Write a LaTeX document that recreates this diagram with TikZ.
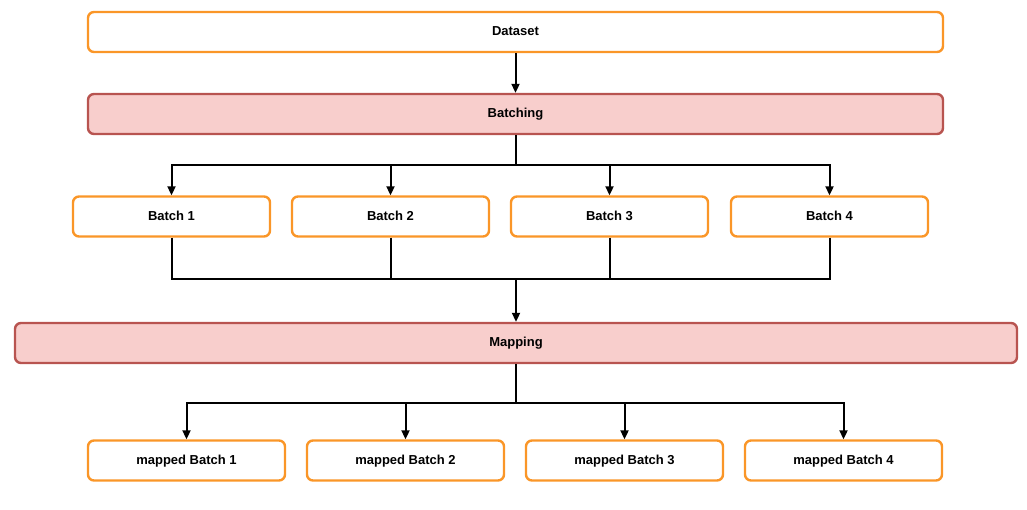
\documentclass[tikz,border=0pt]{standalone}
\usepackage{fontspec}
\setmainfont{Liberation Sans}
\usetikzlibrary{arrows.meta,positioning}

\definecolor{boxorange}{RGB}{250,150,40}
\definecolor{stagefill}{HTML}{F8CECC}
\definecolor{stagedraw}{HTML}{B85450}

\begin{document}
\begin{tikzpicture}
			[x=1pt,y=-1pt,on grid,>={Triangle[length=9pt,width=8pt]},
			item/.style={rectangle,rounded corners=6pt,draw=boxorange,fill=white,line width=2.4pt,
				minimum width=197pt,minimum height=40pt,inner sep=0pt,text height=0.95em,text depth=0.2em,
				font=\bfseries\fontsize{13}{15}\selectfont},
			stage/.style={item,draw=stagedraw,fill=stagefill},
			link/.style={line width=2pt,draw=black},
			post/.style={link,->}]

			\useasboundingbox (0,0) rectangle (1027,509);

			\node [item,minimum width=855pt](dataset) at (515.5,32)  {Dataset};
			\node [stage,minimum width=855pt](batching) [below=82pt of dataset] {Batching};

			% batches
			\node [item](b1) at (171.5,216.5)        {Batch 1};
			\node [item](b2) [right=219pt of b1]     {Batch 2};
			\node [item](b3) [right=219pt of b2]     {Batch 3};
			\node [item](b4) [right=220pt of b3]     {Batch 4};

			\node [stage,minimum width=1002pt](mapping) at (516,343) {Mapping};

			% mapped batches
			\node [item](m1) at (186.5,460.5)        {mapped Batch 1};
			\node [item](m2) [right=219pt of m1]     {mapped Batch 2};
			\node [item](m3) [right=219pt of m2]     {mapped Batch 3};
			\node [item](m4) [right=219pt of m3]     {mapped Batch 4};

			\coordinate [below=30pt of batching.south] (bsplit);
			\coordinate [above=43pt of mapping.north]  (bjoin);
			\coordinate [below=39pt of mapping.south]  (msplit);

			\draw [post] (dataset.south) -- (batching.north);

			\draw [link] (batching.south) -- (bsplit);
			\foreach \b in {b1,b2,b3,b4}
				\draw [post] (bsplit) -| (\b.north);

			\foreach \b in {b1,b2,b3,b4}
				\draw [link] (\b.south) |- (bjoin);
			\draw [post] (bjoin) -- (mapping.north);

			\draw [link] (mapping.south) -- (msplit);
			\foreach \m in {m1,m2,m3,m4}
				\draw [post] (msplit) -| (\m.north);

\end{tikzpicture}
\end{document}
